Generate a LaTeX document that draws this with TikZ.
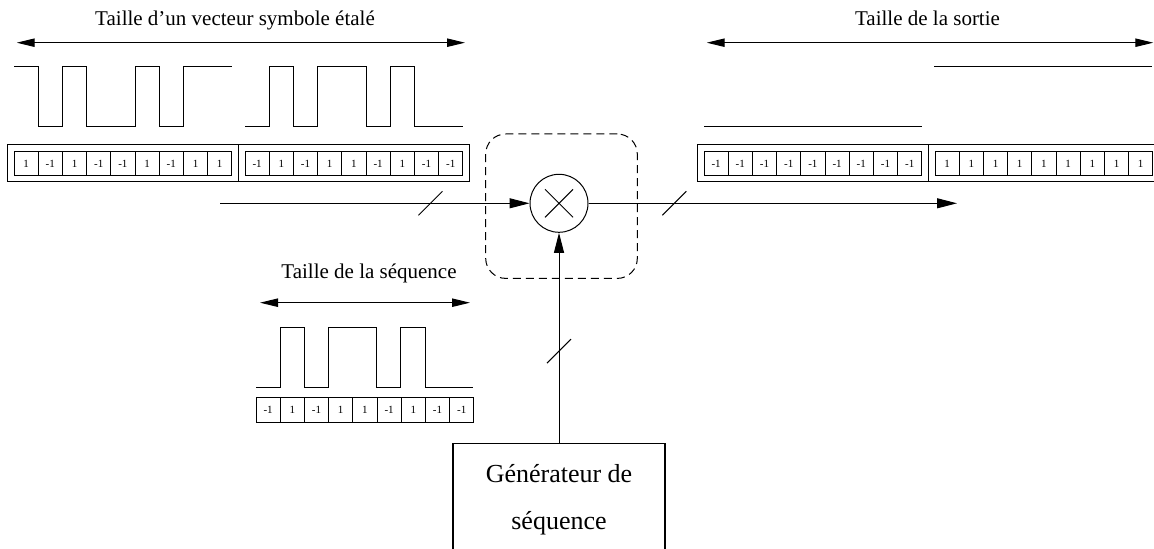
\documentclass[tikz,border=0pt]{standalone}
\usepackage{fontspec}
\setmainfont{Liberation Serif}
\usetikzlibrary{arrows.meta,fit}

% one row of nine chip cells, named <prefix>1 ... <prefix>9
\newcommand\cellrow[4]{%
  \foreach \v [count=\i] in {#4}
    \node[cell] (#1\i) at ({#2+(\i-1)*24.2},#3) {\v};}

\begin{document}
\begin{tikzpicture}[x=0.5pt,y=-0.5pt,
  cell/.style={shape=rectangle,draw,line width=0.5pt,minimum width=12.1pt,minimum height=11.6pt,inner sep=0pt,font=\fontsize{5.5}{6}\selectfont},
  frame/.style={shape=rectangle,draw,line width=0.5pt,inner sep=3.2pt},
  wave/.style={line width=0.5pt},
  title node/.style={anchor=base,inner sep=0pt,font=\fontsize{10.5}{12}\selectfont},
  dim arrow/.style={line width=0.5pt,{Triangle[length=9pt,width=4.2pt]}-{Triangle[length=9pt,width=4.2pt]}},
  sig/.style={line width=0.5pt,-{Triangle[length=10pt,width=5pt]}},
  mult node/.style={shape=circle,draw,line width=0.5pt,minimum size=29pt,inner sep=0pt},
  op box/.style={shape=rectangle,draw,dash pattern=on 4pt off 2.5pt,rounded corners=10pt,line width=0.5pt,minimum width=75.8pt,minimum height=72.2pt},
  gen node/.style={shape=rectangle,draw,line width=0.6pt,minimum width=106pt,minimum height=56.7pt,align=center,font=\fontsize{13}{23.3}\selectfont}]
\useasboundingbox (0,0) rectangle (1154,549);
\clip (0,0) rectangle (1154,549);

% spread symbol vector
\node[title node] (tin) at (235,26) {Taille d’un vecteur symbole étalé};
\coordinate (inL) at (16.7,42.7);
\coordinate (inR) at (465,42.7);
\draw[dim arrow] (inL) -- (inR);
\draw[wave] (14,66.7) -| (38.2,126.7) -| (62.4,66.7) -| (86.6,126.7) -| (135,66.7) -| (159.2,126.7) -| (183.4,66.7) -- (231.8,66.7);
\draw[wave] (245,126.7) -| (269.3,66.7) -| (293.5,126.7) -| (317.8,66.7) -| (366.3,126.7) -| (390.6,66.7) -| (414.8,126.7) -- (463.3,126.7);
\cellrow{a}{26.1}{163.5}{1,-1,1,-1,-1,1,-1,1,1}
\cellrow{b}{257.1}{163.5}{-1,1,-1,1,1,-1,1,-1,-1}
\node[frame,fit=(a1)(a9)] (va) {};
\node[frame,fit=(b1)(b9)] (vb) {};

% output vector
\node[title node] (tout) at (927.5,26) {Taille de la sortie};
\coordinate (outL) at (706.7,42.7);
\coordinate (outR) at (1153.3,42.7);
\draw[dim arrow] (outL) -- (outR);
\draw[wave] (704,126.7) -- (921.7,126.7);
\draw[wave] (934.3,66.7) -- (1151.7,66.7);
\cellrow{c}{716.1}{163.5}{-1,-1,-1,-1,-1,-1,-1,-1,-1}
\cellrow{d}{947.1}{163.5}{1,1,1,1,1,1,1,1,1}
\node[frame,fit=(c1)(c9)] (vc) {};
\node[frame,fit=(d1)(d9)] (vd) {};

% spreading sequence
\node[title node] (tseq) at (369,278.3) {Taille de la séquence};
\coordinate (seqL) at (260,302.7);
\coordinate (seqR) at (470,302.7);
\draw[dim arrow] (seqL) -- (seqR);
\draw[wave] (256,387.3) -| (280.2,327.7) -| (304.3,387.3) -| (328.5,327.7) -| (376.8,387.3) -| (400.9,327.7) -| (425.1,387.3) -- (473.4,387.3);
\begin{scope}[cell/.append style={minimum height=12.5pt}]
\cellrow{s}{268.1}{410}{-1,1,-1,1,1,-1,1,-1,-1}
\end{scope}

% multiplier
\node[op box] (op) at (561.5,206.2) {};
\node[mult node] (mul) at (559,203.3) {};
\draw[line width=0.5pt] ([shift={(-14,-14)}]mul.center) -- ([shift={(14,14)}]mul.center)
  ([shift={(-14,14)}]mul.center) -- ([shift={(14,-14)}]mul.center);
\node[gen node] (gen) at (559,500) {Générateur de\\séquence};
\coordinate (in) at (220,203.3);
\coordinate (out) at (957,203.3);

\draw[sig] (in) -- coordinate[pos=0.68] (bus1) (mul);
\draw[sig] (mul) -- coordinate[pos=0.233] (bus2) (out);
\draw[sig] (gen) -- coordinate[pos=0.436] (bus3) (mul);
\foreach \b in {bus1,bus2,bus3}
  \draw[line width=0.5pt] ([shift={(-12,12)}]\b) -- ([shift={(12,-12)}]\b);
\end{tikzpicture}
\end{document}
